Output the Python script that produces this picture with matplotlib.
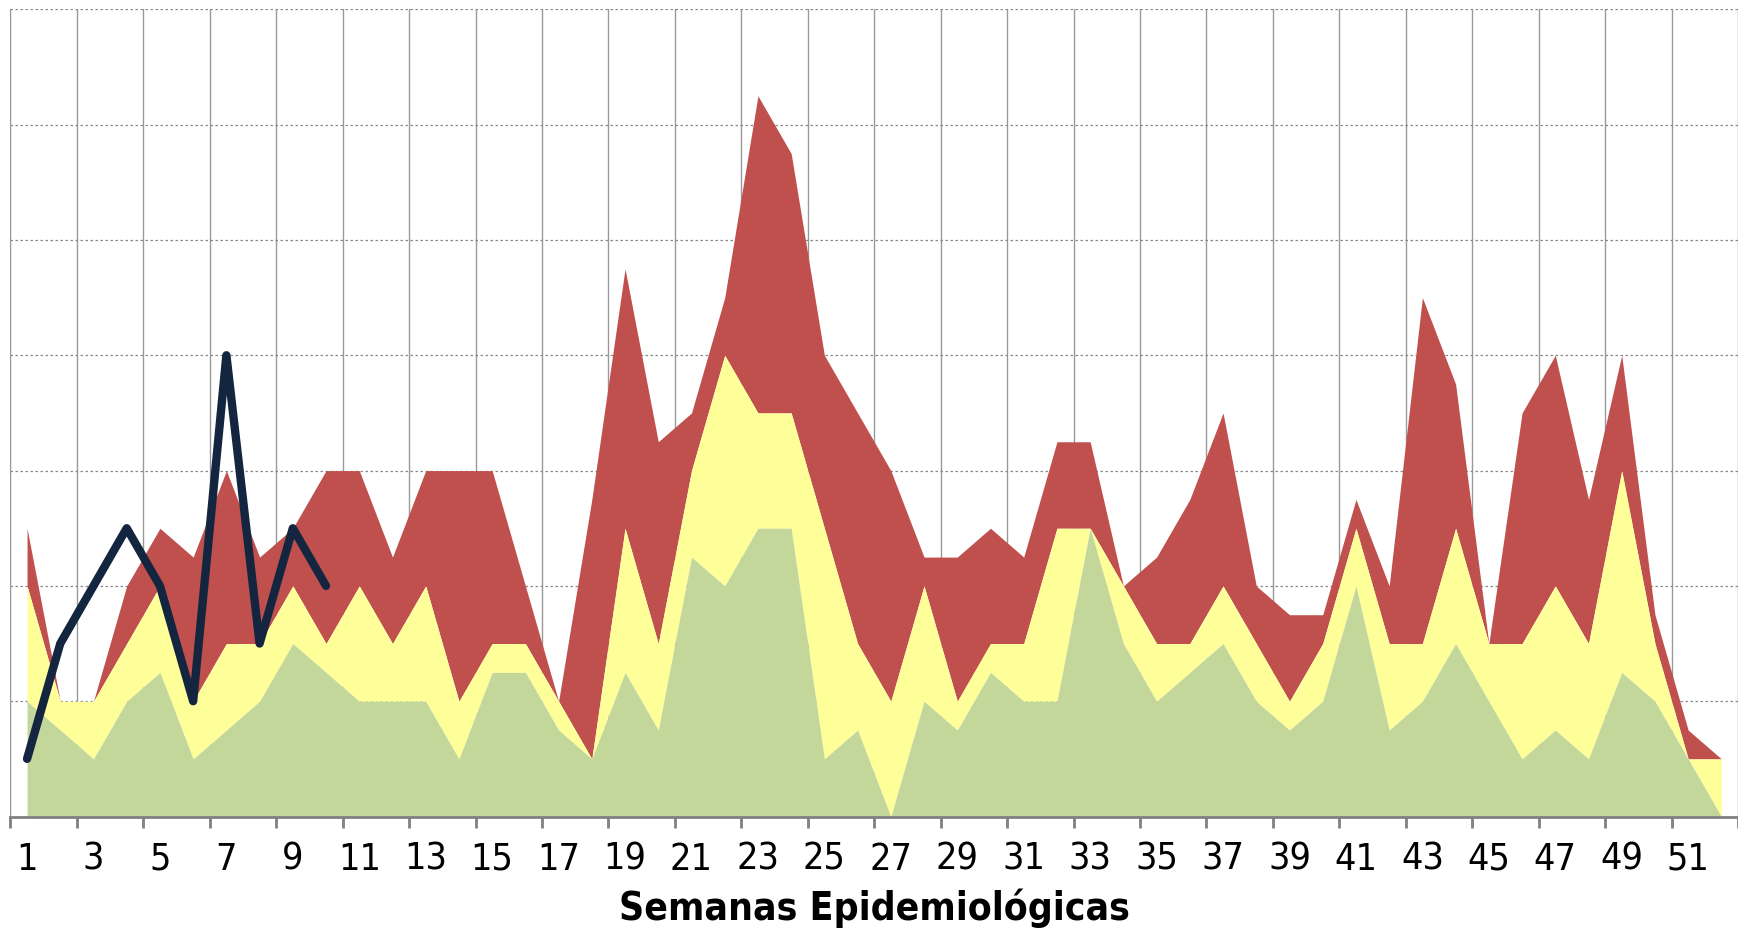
import numpy as np
import matplotlib.pyplot as plt

weeks = np.arange(1, 53)
# umbral zona de exito (verde)
exito = [1.0, 0.75, 0.5, 1.0, 1.25, 0.5, 0.75, 1.0, 1.5, 1.25, 1.0, 1.0, 1.0, 0.5, 1.25, 1.25, 0.75, 0.5,
         1.25, 0.75, 2.25, 2.0, 2.5, 2.5, 0.5, 0.75, 0.0, 1.0, 0.75, 1.25, 1.0, 1.0, 2.5, 1.5, 1.0, 1.25,
         1.5, 1.0, 0.75, 1.0, 2.0, 0.75, 1.0, 1.5, 1.0, 0.5, 0.75, 0.5, 1.25, 1.0, 0.5, 0.0]
# zona de seguridad (amarillo)
seguridad = [2.0, 1.0, 1.0, 1.5, 2.0, 1.0, 1.5, 1.5, 2.0, 1.5, 2.0, 1.5, 2.0, 1.0, 1.5, 1.5, 1.0, 0.5,
             2.5, 1.5, 3.0, 4.0, 3.5, 3.5, 2.5, 1.5, 1.0, 2.0, 1.0, 1.5, 1.5, 2.5, 2.5, 2.0, 1.5, 1.5,
             2.0, 1.5, 1.0, 1.5, 2.5, 1.5, 1.5, 2.5, 1.5, 1.5, 2.0, 1.5, 3.0, 1.5, 0.5, 0.5]
# zona de alerta (rojo)
alerta = [2.5, 1.0, 1.0, 2.0, 2.5, 2.25, 3.0, 2.25, 2.5, 3.0, 3.0, 2.25, 3.0, 3.0, 3.0, 2.0, 1.0, 2.75,
          4.75, 3.25, 3.5, 4.5, 6.25, 5.75, 4.0, 3.5, 3.0, 2.25, 2.25, 2.5, 2.25, 3.25, 3.25, 2.0, 2.25, 2.75,
          3.5, 2.0, 1.75, 1.75, 2.75, 2.0, 4.5, 3.75, 1.5, 3.5, 4.0, 2.75, 4.0, 1.75, 0.75, 0.5]
# casos año actual
semanas_act = np.arange(1, 11)
casos = [0.5, 1.5, 2.0, 2.5, 2.0, 1.0, 4.0, 1.5, 2.5, 2.0]

fig = plt.figure(figsize=(17.38, 9.3), dpi=100)
ax = fig.add_axes([0.006, 0.122, 0.994, 0.868])

ax.fill_between(weeks, seguridad, alerta, color='#C0504D', lw=0)
ax.fill_between(weeks, exito, seguridad, color='#FFFF99', lw=0)
ax.fill_between(weeks, 0, exito, color='#C4D79B', lw=0)
ax.plot(semanas_act, casos, color='#14253F', lw=6, solid_joinstyle='round', solid_capstyle='round', zorder=5)

ax.set_xlim(0.5, 52.5)
ax.set_ylim(0, 7)
ax.set_yticks(range(8))
ax.set_yticklabels([])
ax.tick_params(axis='y', length=0)
ax.set_xticks(np.arange(0.5, 53, 2))
ax.set_xticklabels([])
ax.set_xticks(np.arange(1, 53, 2), minor=True)
ax.set_xticklabels([str(w) for w in range(1, 53, 2)], minor=True, fontsize=27,
                   family='DejaVu Sans', fontstretch='condensed')
ax.tick_params(axis='x', which='minor', length=0, pad=18)
ax.tick_params(axis='x', which='major', length=8, width=2, color='#808080')
ax.grid(axis='x', which='major', color='#999999', lw=1, ls='-')
ax.grid(axis='y', color='#888888', lw=0.9, ls=(0, (2, 2)))
ax.set_axisbelow(True)
for s in ['top', 'right']:
    ax.spines[s].set_visible(False)
ax.spines['left'].set_color('#999999')
ax.spines['bottom'].set_color('#808080')
ax.spines['bottom'].set_linewidth(2)
ax.set_xlabel('Semanas Epidemiológicas', fontsize=28, fontweight='bold',
              family='DejaVu Sans', fontstretch='condensed', labelpad=8)

fig.savefig('out.png')
